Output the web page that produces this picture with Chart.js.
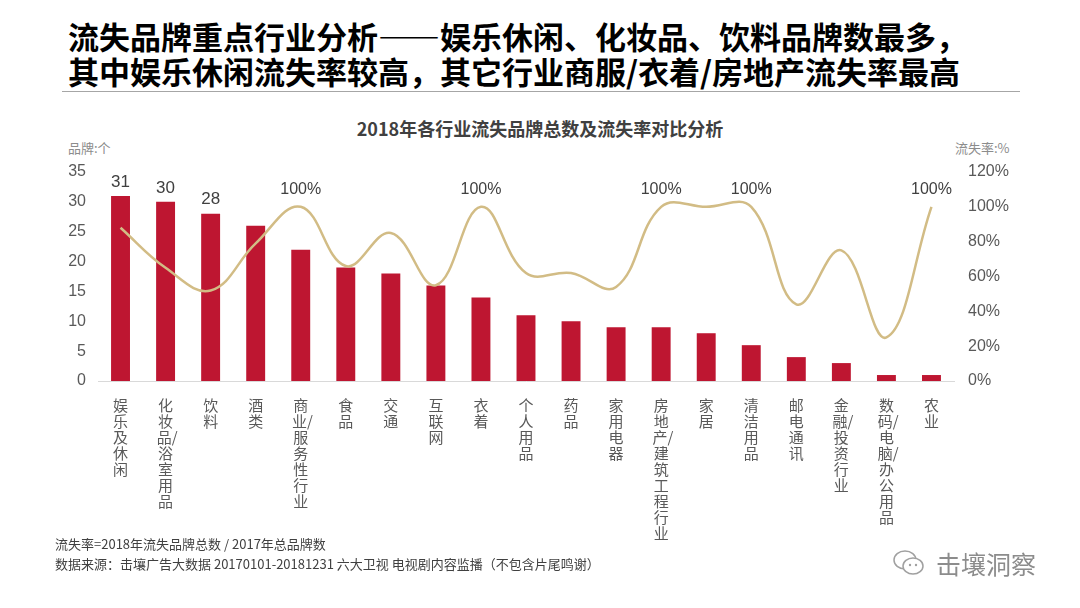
<!DOCTYPE html>
<html lang="zh">
<head>
<meta charset="UTF-8">
<title>流失品牌重点行业分析</title>
<style>
    body {
        margin: 0;
        width: 1080px;
        height: 608px;
        background: #ffffff;
        font-family: "Noto Sans CJK SC", "Noto Sans", sans-serif;
        position: relative;
        overflow: hidden;
    }
    .headline {
        position: absolute;
        left: 68px;
        top: 18px;
        font-size: 31px;
        font-weight: 700;
        line-height: 35px;
        color: #000;
        white-space: nowrap;
    }
    .rule {
        position: absolute;
        left: 62px;
        top: 91px;
        width: 958px;
        height: 1px;
        background: #a6a6a6;
    }
    .chart-title {
        position: absolute;
        left: 0;
        width: 1080px;
        top: 115px;
        text-align: center;
        font-size: 18px;
        font-weight: 700;
        color: #404040;
    }
    .axis-title {
        position: absolute;
        top: 138px;
        font-size: 13px;
        color: #8c8c8c;
    }
    .chart-box {
        position: absolute;
        left: 0;
        top: 100px;
        width: 1080px;
        height: 451px;
    }
    .note {
        position: absolute;
        left: 55px;
        font-size: 13px;
        color: #404040;
        white-space: nowrap;
    }
    .mark {
        position: absolute;
        left: 892px;
        top: 545px;
        display: flex;
        align-items: center;
        gap: 10px;
        color: #8c8c8c;
        font-size: 25px;
    }
</style>
</head>
<body>
<div class="headline">流失品牌重点行业分析——娱乐休闲、化妆品、饮料品牌数最多，<br>其中娱乐休闲流失率较高，其它行业商服/衣着/房地产流失率最高</div>
<div class="rule"></div>
<div class="chart-title">2018年各行业流失品牌总数及流失率对比分析</div>
<div class="axis-title" style="left:68px;">品牌:个</div>
<div class="axis-title" style="left:955px;">流失率:%</div>
<div class="chart-box"><canvas id="churnChart"></canvas></div>
<div class="note" style="top:534px;">流失率=2018年流失品牌总数 / 2017年总品牌数</div>
<div class="note" style="top:554px;">数据来源：击壤广告大数据 20170101-20181231 六大卫视 电视剧内容监播（不包含片尾鸣谢）</div>
<div class="mark">
    <svg width="34" height="30" viewBox="0 0 34 30">
        <ellipse cx="13" cy="12" rx="11" ry="9" fill="none" stroke="#a0a0a0" stroke-width="1.5"/>
        <ellipse cx="21" cy="18" rx="10" ry="8" fill="#fff" stroke="#a0a0a0" stroke-width="1.5"/>
        <circle cx="18" cy="17" r="1.2" fill="#a0a0a0"/>
        <circle cx="24" cy="17" r="1.2" fill="#a0a0a0"/>
    </svg>
    <span>击壤洞察</span>
</div>

<script src="https://cdn.jsdelivr.net/npm/chart.js"></script>
<script>
    const categories = ["娱乐及休闲", "化妆品/浴室用品", "饮料", "酒类", "商业/服务性行业", "食品", "交通",
        "互联网", "衣着", "个人用品", "药品", "家用电器", "房地产/建筑工程行业", "家居", "清洁用品",
        "邮电通讯", "金融/投资行业", "数码/电脑/办公用品", "农业"];
    const brandCounts = [31, 30, 28, 26, 22, 19, 18, 16, 14, 11, 10, 9, 9, 8, 6, 4, 3, 1, 1];
    const churnRates = [88, 65, 52, 79, 100, 66, 85, 55, 100, 62, 62, 54, 100, 100, 100, 44, 75, 25, 100];
    const brandTicks = [0, 5, 10, 15, 20, 25, 30, 35];
    const rateTicks = [0, 20, 40, 60, 80, 100, 120];
    // which points get a value label in the original
    const labeledBars = [0, 1, 2];
    const labeledRates = [4, 8, 12, 14, 18];

    // stack the characters vertically, slash sticks to the char before it
    function verticalLabel(name) {
        const lines = [];
        for (const ch of name) {
            if (ch === "/" && lines.length) {
                lines[lines.length - 1] = " " + lines[lines.length - 1] + "/";
            } else {
                lines.push(ch);
            }
        }
        return lines;
    }

    const valueLabels = {
        id: "valueLabels",
        afterDatasetsDraw(chart) {
            const ctx = chart.ctx;
            ctx.save();
            ctx.fillStyle = "#404040";
            ctx.textAlign = "center";
            ctx.textBaseline = "middle";

            const bars = chart.getDatasetMeta(1).data;
            ctx.font = "17px 'Liberation Sans', Arial, sans-serif";
            labeledBars.forEach(i => {
                ctx.fillText(String(brandCounts[i]), bars[i].x, bars[i].y - 14);
            });

            const points = chart.getDatasetMeta(0).data;
            ctx.font = "16px 'Liberation Sans', Arial, sans-serif";
            labeledRates.forEach(i => {
                ctx.fillText(churnRates[i] + "%", points[i].x, points[i].y - 17);
            });
            ctx.restore();
        }
    };

    const ctx = document.getElementById("churnChart").getContext("2d");
    new Chart(ctx, {
        type: "bar",
        data: {
            labels: categories.map(verticalLabel),
            datasets: [
                {
                    type: "line",
                    label: "流失率",
                    data: churnRates,
                    yAxisID: "y1",
                    borderColor: "#D2BC85",
                    borderWidth: 2.5,
                    pointRadius: 0,
                    tension: 0.4,
                    fill: false,
                    order: 0
                },
                {
                    type: "bar",
                    label: "流失品牌数",
                    data: brandCounts,
                    yAxisID: "y",
                    backgroundColor: "#BE1631",
                    barPercentage: 0.42,
                    categoryPercentage: 1,
                    order: 1
                }
            ]
        },
        options: {
            responsive: true,
            maintainAspectRatio: false,
            animation: false,
            layout: {
                padding: { top: 72, left: 0, right: 0, bottom: 0 }
            },
            plugins: {
                legend: { display: false },
                tooltip: { enabled: false }
            },
            scales: {
                x: {
                    grid: { display: false },
                    border: { display: true, color: "#d9d9d9", width: 1 },
                    ticks: {
                        autoSkip: false,
                        maxRotation: 0,
                        minRotation: 0,
                        padding: 8,
                        color: "#595959",
                        font: { family: "'Noto Sans CJK SC'", size: 15, lineHeight: "16px" }
                    },
                    afterFit: scale => { scale.height = 170; }
                },
                y: {
                    position: "left",
                    min: brandTicks[0],
                    max: brandTicks[brandTicks.length - 1],
                    grid: { display: false, drawTicks: false },
                    border: { display: false },
                    afterBuildTicks: scale => {
                        scale.ticks = brandTicks.map(v => ({ value: v }));
                    },
                    ticks: {
                        padding: 12,
                        color: "#595959",
                        font: { family: "'Liberation Sans', Arial, sans-serif", size: 16 }
                    },
                    afterFit: scale => { scale.width = 98; }
                },
                y1: {
                    position: "right",
                    min: rateTicks[0],
                    max: rateTicks[rateTicks.length - 1],
                    grid: { display: false, drawTicks: false },
                    border: { display: false },
                    afterBuildTicks: scale => {
                        scale.ticks = rateTicks.map(v => ({ value: v }));
                    },
                    ticks: {
                        padding: 14,
                        color: "#595959",
                        font: { family: "'Liberation Sans', Arial, sans-serif", size: 16 },
                        callback: v => v + "%"
                    },
                    afterFit: scale => { scale.width = 126; }
                }
            }
        },
        plugins: [valueLabels]
    });
</script>
</body>
</html>
